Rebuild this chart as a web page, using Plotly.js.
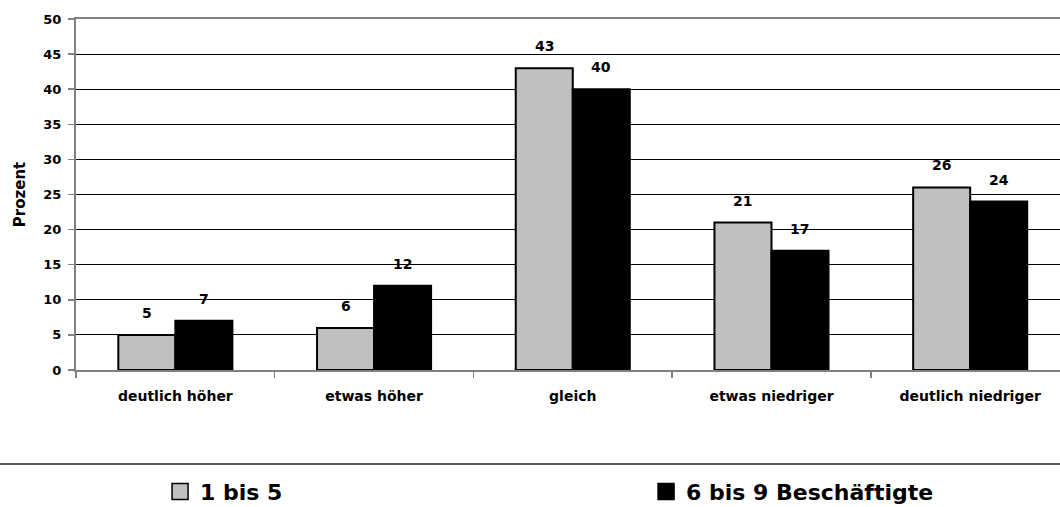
<!DOCTYPE html>
<html>
<head>
<meta charset="utf-8">
<script src="https://cdn.plot.ly/plotly-3.0.1.min.js"></script>
<style>html,body{margin:0;padding:0;background:#fff;}#chart{width:1060px;height:507px;}</style>
</head>
<body>
<div id="chart"></div>
<script>
const categories = ["deutlich höher", "etwas höher", "gleich", "etwas niedriger", "deutlich niedriger"];
const seriesNames = ["1 bis 5", "6 bis 9 Beschäftigte"];
const values1bis5 = [5, 6, 43, 21, 26];
const values6bis9 = [7, 12, 40, 17, 24];
const yTicks = [0, 5, 10, 15, 20, 25, 30, 35, 40, 45, 50];

const FONT = "DejaVu Sans, Liberation Sans, Arial, sans-serif";
const colors = ["#C0C0C0", "#000000"];
const allSeries = [values1bis5, values6bis9];

const traces = allSeries.map((vals, i) => ({
  type: "bar",
  name: seriesNames[i],
  x: categories,
  y: vals,
  showlegend: false,
  marker: {color: colors[i], line: {color: "#000", width: 2}},
  hoverinfo: "skip"
}));

// legend-only entries (larger square symbols, like the reference legend)
seriesNames.forEach((name, i) => {
  traces.push({
    type: "scatter", mode: "markers", name: name,
    x: [null], y: [null], showlegend: true, hoverinfo: "skip",
    marker: {symbol: "square", size: 16, color: colors[i], line: {color: "#000", width: 1.5}}
  });
});

const annotations = [];
allSeries.forEach((vals, i) => {
  vals.forEach((v, j) => {
    annotations.push({
      x: categories[j], y: v, xref: "x", yref: "y",
      text: "<b>" + v + "</b>", showarrow: false,
      xanchor: "center", yanchor: "bottom",
      xshift: i === 0 ? -28.5 : 28.5, yshift: 12,
      font: {family: FONT, size: 14, color: "#000"}
    });
  });
});

const layout = {
  width: 1060, height: 507,
  margin: {l: 76, r: 0, t: 19, b: 137, pad: 0},
  paper_bgcolor: "#fff", plot_bgcolor: "#fff",
  barmode: "group", bargap: 0.426, bargroupgap: 0,
  font: {family: FONT, color: "#000"},
  showlegend: true,
  xaxis: {
    type: "category",
    range: [-0.5, 4.452],
    tickson: "boundaries",
    ticks: "outside", ticklen: 6, tickcolor: "#808080", tickwidth: 1.5,
    showline: true, linecolor: "#808080", linewidth: 2, mirror: true,
    showgrid: false, zeroline: false,
    ticklabelstandoff: 12,
    tickfont: {family: FONT, size: 14, color: "#000", weight: "bold"}
  },
  yaxis: {
    range: [0, 50],
    tickvals: yTicks, ticktext: yTicks.map(String),
    ticks: "outside", ticklen: 6, tickcolor: "#808080", tickwidth: 1.5,
    showline: true, linecolor: "#808080", linewidth: 2,
    showgrid: true, gridcolor: "#000", gridwidth: 1,
    zeroline: false,
    ticklabelstandoff: 4,
    tickfont: {family: FONT, size: 13, color: "#000", weight: "bold"},
    title: {text: "<b>Prozent</b>", standoff: 14, font: {family: FONT, size: 15, color: "#000"}}
  },
  legend: {
    orientation: "h",
    xref: "container", yref: "container",
    x: 0.151, y: 0.03, xanchor: "left", yanchor: "middle",
    entrywidth: 441, entrywidthmode: "pixels",
    font: {family: FONT, size: 22, color: "#000", weight: "bold"},
    bgcolor: "rgba(0,0,0,0)", borderwidth: 0
  },
  shapes: [{
    type: "line", xref: "paper", yref: "paper",
    x0: -76/984, x1: 1, y0: -94/351, y1: -94/351,
    line: {color: "#222", width: 1.5}
  }],
  annotations: annotations
};

Plotly.newPlot("chart", traces, layout, {displayModeBar: false, staticPlot: true});
</script>
</body>
</html>
